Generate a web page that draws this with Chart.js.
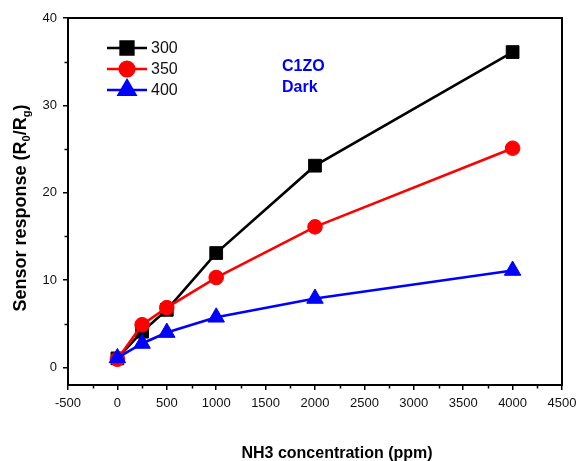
<!DOCTYPE html>
<html>
<head>
<meta charset="utf-8">
<script src="https://cdn.jsdelivr.net/npm/chart.js@4.4.1/dist/chart.umd.min.js"></script>
<style>
  body { margin: 0; background: #fff; }
  #wrap { width: 579px; height: 461px; }
</style>
</head>
<body>
<div id="wrap"><canvas id="myChart" width="579" height="461"></canvas></div>
<script>
"use strict";
// values
const concentrations = [0, 250, 500, 1000, 2000, 4000];
const resp300 = [1.05, 4.1, 6.6, 13.1, 23.1, 36.1];
const resp350 = [0.95, 4.9, 6.85, 10.3, 16.1, 25.1];
const resp400 = [1.1, 2.75, 4.0, 5.75, 7.9, 11.1];
const seriesNames = ["300", "350", "400"];

const xTicks = [-500, 0, 500, 1000, 1500, 2000, 2500, 3000, 3500, 4000, 4500];
const xMinorTicks = [-250, 250, 750, 1250, 1750, 2250, 2750, 3250, 3750, 4250];
const yTicks = [0, 10, 20, 30, 40];
const yMinorTicks = [5, 15, 25, 35];
const noteLines = ["C1ZO", "Dark"];

function toPoints(ys) {
  return concentrations.map((c, i) => ({ x: c, y: ys[i] }));
}

const datasets = [
  { label: seriesNames[0], data: toPoints(resp300), borderColor: "#000000", backgroundColor: "#000000", pointStyle: "rect", pointRadius: 9, order: 2 },
  { label: seriesNames[1], data: toPoints(resp350), borderColor: "#ff0000", backgroundColor: "#ff0000", pointStyle: "circle", pointRadius: 7.3, order: 1 },
  { label: seriesNames[2], data: toPoints(resp400), borderColor: "#0000ff", backgroundColor: "#0000ff", pointStyle: "triangle", pointRadius: 9.5, order: 0 },
];
datasets.forEach((d) => {
  d.borderWidth = 2.6;
  d.pointBorderWidth = 1;
  d.tension = 0;
  d.fill = false;
});

// frame, minor ticks, legend, notes and axis titles
const extras = {
  id: "extras",
  afterDraw(chart) {
    const { ctx, chartArea: a } = chart;
    const sx = chart.scales.x;
    const sy = chart.scales.y;
    ctx.save();
    ctx.strokeStyle = "#000";
    ctx.lineWidth = 2;
    ctx.strokeRect(a.left, a.top, a.right - a.left, a.bottom - a.top);

    ctx.lineWidth = 1.5;
    ctx.beginPath();
    xMinorTicks.forEach((v) => {
      const px = Math.round(sx.getPixelForValue(v)) + 0.5;
      ctx.moveTo(px, a.bottom);
      ctx.lineTo(px, a.bottom + 3.5);
    });
    yMinorTicks.forEach((v) => {
      const py = Math.round(sy.getPixelForValue(v)) + 0.5;
      ctx.moveTo(a.left, py);
      ctx.lineTo(a.left - 3.5, py);
    });
    ctx.stroke();

    // legend
    const rows = [48, 69, 90];
    chart.data.datasets.forEach((d, i) => {
      const y = rows[i];
      ctx.strokeStyle = d.borderColor;
      ctx.lineWidth = 2.6;
      ctx.beginPath();
      ctx.moveTo(107, y);
      ctx.lineTo(147, y);
      ctx.stroke();
      ctx.fillStyle = d.backgroundColor;
      Chart.helpers.drawPoint(ctx, { pointStyle: d.pointStyle, radius: d.pointRadius, rotation: 0, borderWidth: 1 }, 127, y);
      ctx.fillStyle = "#111";
      ctx.font = "16px Arial";
      ctx.textAlign = "left";
      ctx.textBaseline = "middle";
      ctx.fillText(d.label, 151, y + 1);
    });

    // note
    ctx.fillStyle = "#0000ff";
    ctx.font = "bold 16px Arial";
    ctx.textBaseline = "alphabetic";
    ctx.fillText(noteLines[0], 282, 71);
    ctx.fillText(noteLines[1], 282, 92);

    // x title
    ctx.fillStyle = "#000";
    ctx.textAlign = "center";
    ctx.fillText("NH3 concentration (ppm)", 337, 458);

    // y title with subscripts
    const parts = [
      ["Sensor response (R", false],
      ["0", true],
      ["/R", false],
      ["g", true],
      [")", false],
    ];
    const big = "bold 18px Arial";
    const small = "bold 11px Arial";
    let total = 0;
    parts.forEach(([t, sub]) => {
      ctx.font = sub ? small : big;
      total += ctx.measureText(t).width;
    });
    ctx.translate(26, 208);
    ctx.rotate(-Math.PI / 2);
    ctx.textAlign = "left";
    let px = -total / 2;
    parts.forEach(([t, sub]) => {
      ctx.font = sub ? small : big;
      ctx.fillText(t, px, sub ? 4 : 0);
      px += ctx.measureText(t).width;
    });
    ctx.restore();
  },
};

let chartCanvas = document.getElementById("myChart");
const myChart = new Chart(chartCanvas, {
  type: "line",
  data: { datasets: datasets },
  options: {
    responsive: false,
    animation: false,
    layout: { padding: { top: 18, right: 17, left: 0, bottom: 0 } },
    plugins: {
      legend: { display: false },
      tooltip: { enabled: false },
    },
    scales: {
      x: {
        type: "linear",
        min: -500,
        max: 4500,
        afterBuildTicks: (scale) => {
          scale.ticks = xTicks.map((v) => ({ value: v }));
        },
        afterFit: (scale) => {
          scale.height = 76;
          // let the layout padding alone decide the plot's right edge
          scale.paddingLeft = 0;
          scale.paddingRight = 0;
        },
        grid: { drawOnChartArea: false, drawTicks: true, tickLength: 5, color: "#000", lineWidth: 1.5 },
        border: { display: false },
        ticks: { color: "#111", font: { family: "Arial", size: 13 }, padding: 6, maxRotation: 0, autoSkip: false, callback: (v) => String(v) },
      },
      y: {
        type: "linear",
        min: -2,
        max: 40,
        afterBuildTicks: (scale) => {
          scale.ticks = yTicks.map((v) => ({ value: v }));
        },
        afterFit: (scale) => {
          scale.width = 68;
          scale.paddingTop = 0;
          scale.paddingBottom = 0;
        },
        grid: { drawOnChartArea: false, drawTicks: true, tickLength: 5, color: "#000", lineWidth: 1.5 },
        border: { display: false },
        ticks: { color: "#111", font: { family: "Arial", size: 13 }, padding: 6, callback: (v) => String(v) },
      },
    },
  },
  plugins: [extras],
});
</script>
</body>
</html>
